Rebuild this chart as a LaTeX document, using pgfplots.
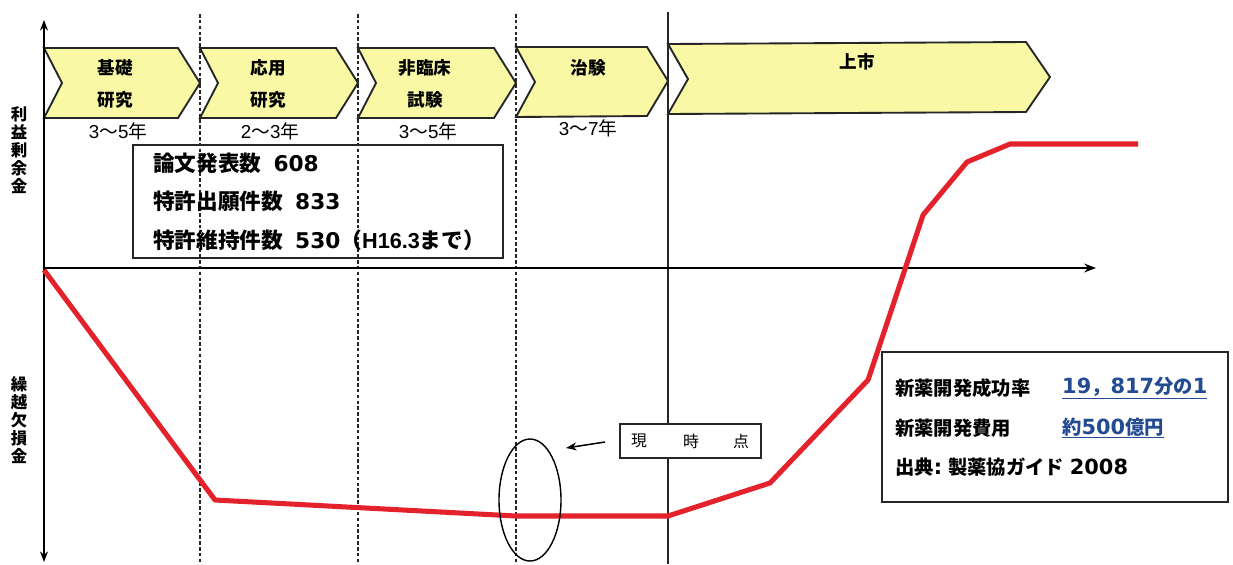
\documentclass[border=0pt]{standalone}
\usepackage{fontspec}
\setmainfont{Noto Sans CJK JP}
\newfontfamily\lat{Liberation Sans}
\newfontfamily\dig{DejaVu Sans}
\newfontfamily\digw{DejaVu Sans}[Scale=1.08]
\usepackage{pgfplots}
\pgfplotsset{compat=1.18}
\usetikzlibrary{arrows.meta}
\definecolor{chev}{RGB}{248,248,165}
\definecolor{curvered}{RGB}{228,34,44}
\definecolor{linkblue}{RGB}{35,75,145}
\tikzset{
  chevron/.style={fill=chev,draw=black!85,line width=1.6pt,line join=miter},
  phase/.style={font=\bfseries\fontsize{15}{18}\selectfont,inner sep=0pt},
  yrs/.style={font=\fontsize{16}{18}\selectfont,inner sep=0pt},
  boxtxt/.style={font=\bfseries\fontsize{18.5}{20}\selectfont,inner sep=0pt,anchor=west},
  infotxt/.style={font=\bfseries\fontsize{16.5}{19}\selectfont,inner sep=0pt,anchor=west},
  vlbl/.style={font=\bfseries\fontsize{14}{15.3}\selectfont,align=center,inner sep=0pt},
  sep/.style={black!85,line width=1.1pt,dash pattern=on 3pt off 2pt},
}
\begin{document}
\begin{tikzpicture}
\begin{axis}[
  scale only axis,width=36.99cm,height=16.92cm,
  xmin=0,xmax=1233,ymin=0,ymax=564,y dir=reverse,
  hide axis,clip=false,
]
  % background
  \fill[white] (axis cs:0,0) rectangle (axis cs:1233,564);
  % phase chevrons
  \draw[chevron] (axis cs:44,48)--(axis cs:178,48)--(axis cs:200,83)--(axis cs:178,118)--(axis cs:44,118)--(axis cs:62,83)--cycle;
  \draw[chevron] (axis cs:200,48)--(axis cs:336,48)--(axis cs:358,83)--(axis cs:336,118)--(axis cs:200,118)--(axis cs:218,83)--cycle;
  \draw[chevron] (axis cs:358,48)--(axis cs:494,48)--(axis cs:516,83)--(axis cs:494,118)--(axis cs:358,118)--(axis cs:376,83)--cycle;
  \draw[chevron] (axis cs:516,47)--(axis cs:647,47)--(axis cs:668,81)--(axis cs:647,116)--(axis cs:516,117)--(axis cs:535,82)--cycle;
  \draw[chevron] (axis cs:668,44)--(axis cs:1026,42)--(axis cs:1050,77)--(axis cs:1026,112)--(axis cs:668,114)--(axis cs:688,79)--cycle;
  % phase separators
  \draw[sep] (axis cs:200,14)--(axis cs:200,564);
  \draw[sep] (axis cs:358,14)--(axis cs:358,564);
  \draw[sep] (axis cs:516,14)--(axis cs:516,564);
  \draw[black!85,line width=1pt] (axis cs:668,12)--(axis cs:668,564);
  % phase names
  \node[phase] at (axis cs:115,68) {基礎};
  \node[phase] at (axis cs:115,100) {研究};
  \node[phase] at (axis cs:268,68) {応用};
  \node[phase] at (axis cs:268,100) {研究};
  \node[phase] at (axis cs:425,68) {非臨床};
  \node[phase] at (axis cs:425,100) {試験};
  \node[phase] at (axis cs:588,68) {治験};
  \node[phase] at (axis cs:857,62) {上市};
  % durations
  \node[yrs] at (axis cs:118,131) {{\lat 3}～{\lat 5}年};
  \node[yrs] at (axis cs:270,131) {{\lat 2}～{\lat 3}年};
  \node[yrs] at (axis cs:428,131) {{\lat 3}～{\lat 5}年};
  \node[yrs] at (axis cs:588,128) {{\lat 3}～{\lat 7}年};
  % research output box
  \draw[black!85,line width=1.5pt] (axis cs:133,145) rectangle (axis cs:503,258);
  \node[boxtxt] at (axis cs:153,163) {論文発表数\hspace{0.55em}{\dig 608}};
  \node[boxtxt] at (axis cs:153,201) {特許出願件数\hspace{0.55em}{\dig 833}};
  \node[boxtxt] at (axis cs:153,240) {特許維持件数\hspace{0.55em}{\dig 530}（{\lat H16.3}まで）};
  % axes
  \draw[{Stealth[length=9pt]}-{Stealth[length=9pt]},line width=2.2pt] (axis cs:44,20)--(axis cs:44,562);
  \draw[-{Stealth[length=10pt]},line width=2.4pt] (axis cs:44,268)--(axis cs:1096,268);
  \node[vlbl] at (axis cs:19,150) {利\\益\\剰\\余\\金};
  \node[vlbl] at (axis cs:19,420) {繰\\越\\欠\\損\\金};
  % cumulative profit curve
  \addplot[curvered,line width=4.3pt,line join=round] coordinates {
    (44,270) (215,500) (516,516) (668,516) (770,483) (868,380)
    (923,215) (967,162) (1010,144) (1138,144)
  };
  % current point marker
  \draw[black,line width=1.2pt] (axis cs:530,500) ellipse [x radius=0.93cm,y radius=1.83cm];
  \draw[-{Stealth[length=9pt]},line width=1.3pt] (axis cs:605,442)--(axis cs:566,448);
  \draw[black!85,line width=1.3pt,fill=white] (axis cs:620,424) rectangle (axis cs:761,458);
  \node[font=\fontsize{13.5}{15}\selectfont,inner sep=0pt] at (axis cs:639,441) {現};
  \node[font=\fontsize{13.5}{15}\selectfont,inner sep=0pt] at (axis cs:691,441) {時};
  \node[font=\fontsize{13.5}{15}\selectfont,inner sep=0pt] at (axis cs:741,441) {点};
  % drug development facts box
  \draw[black!85,line width=1.5pt,fill=white] (axis cs:882,352) rectangle (axis cs:1228,502);
  \node[infotxt] at (axis cs:895,388) {新薬開発成功率};
  \node[infotxt,text=linkblue] at (axis cs:1062,388) {\underline{{\digw 19}，{\digw 817}分の{\digw 1}}};
  \node[infotxt] at (axis cs:895,428) {新薬開発費用};
  \node[infotxt,text=linkblue] at (axis cs:1062,428) {\underline{約{\digw 500}億円}};
  \node[infotxt] at (axis cs:895,467) {出典{\digw :} 製薬協ガイド\hspace{0.3em}{\digw 2008}};
\end{axis}
\end{tikzpicture}
\end{document}
